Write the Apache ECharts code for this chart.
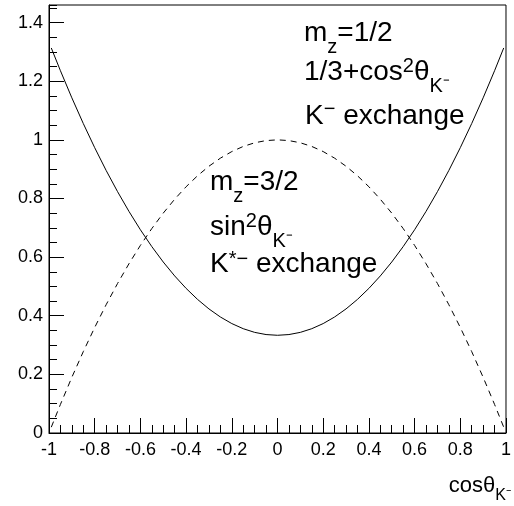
<!DOCTYPE html>
<html>
<head>
<meta charset="utf-8">
<script src="https://cdn.jsdelivr.net/npm/echarts@6/dist/echarts.min.js"></script>
<style>
  html, body { margin: 0; padding: 0; background: #fff; }
  #chart { width: 514px; height: 506px; }
</style>
</head>
<body>
<div id="chart"></div>
<script>
// Angular distributions versus cos(theta_K-)
const cosTheta = [-0.99, -0.95, -0.9, -0.85, -0.8, -0.75, -0.7, -0.65, -0.6, -0.55, -0.5,
  -0.45, -0.4, -0.35, -0.3, -0.25, -0.2, -0.15, -0.1, -0.05, 0,
  0.05, 0.1, 0.15, 0.2, 0.25, 0.3, 0.35, 0.4, 0.45, 0.5,
  0.55, 0.6, 0.65, 0.7, 0.75, 0.8, 0.85, 0.9, 0.95, 0.99];

// m_z = 1/2 (K- exchange): solid curve
const halfSpin = [1.3134, 1.2358, 1.1433, 1.0558, 0.9733, 0.8958, 0.8233, 0.7558, 0.6933, 0.6358, 0.5833,
  0.5358, 0.4933, 0.4558, 0.4233, 0.3958, 0.3733, 0.3558, 0.3433, 0.3358, 0.3333,
  0.3358, 0.3433, 0.3558, 0.3733, 0.3958, 0.4233, 0.4558, 0.4933, 0.5358, 0.5833,
  0.6358, 0.6933, 0.7558, 0.8233, 0.8958, 0.9733, 1.0558, 1.1433, 1.2358, 1.3134];

// m_z = 3/2 (K*- exchange): dashed curve
const threeHalfSpin = [0.0199, 0.0975, 0.19, 0.2775, 0.36, 0.4375, 0.51, 0.5775, 0.64, 0.6975, 0.75,
  0.7975, 0.84, 0.8775, 0.91, 0.9375, 0.96, 0.9775, 0.99, 0.9975, 1,
  0.9975, 0.99, 0.9775, 0.96, 0.9375, 0.91, 0.8775, 0.84, 0.7975, 0.75,
  0.6975, 0.64, 0.5775, 0.51, 0.4375, 0.36, 0.2775, 0.19, 0.0975, 0.0199];

const xRange = [-1, 1];
const yRange = [0, 1.46];

const FONT = 'Liberation Sans, Arial, Helvetica, sans-serif';
const base = { fontFamily: FONT, color: '#000' };

// Rich-text styles: main glyphs, subscripts and superscripts
const richStyles = {
  m: Object.assign({ fontSize: 28, lineHeight: 48 }, base),
  sub: Object.assign({ fontSize: 20, lineHeight: 20, verticalAlign: 'bottom' }, base),
  sup: Object.assign({ fontSize: 20, lineHeight: 36, height: 36, verticalAlign: 'top' }, base),
  supm: Object.assign({ fontSize: 20, lineHeight: 34, height: 34, verticalAlign: 'top' }, base),
  supa: Object.assign({ fontSize: 20, lineHeight: 38, height: 38, verticalAlign: 'top' }, base),
  t: Object.assign({ fontSize: 22, lineHeight: 36 }, base),
  tsub: Object.assign({ fontSize: 16, lineHeight: 16, verticalAlign: 'bottom' }, base)
};

function label(x, y, text, align) {
  return {
    type: 'text', x: x, y: y, silent: true,
    style: {
      text: text, rich: richStyles, fill: '#000',
      font: '28px ' + FONT,
      textAlign: align || 'left', textVerticalAlign: 'middle'
    }
  };
}

const chart = echarts.init(document.getElementById('chart'), null, { renderer: 'canvas' });

const tickFont = { fontSize: 18, fontFamily: FONT, color: '#000' };

chart.setOption({
  animation: false,
  backgroundColor: '#fff',
  grid: { left: 49, right: 6, top: 5, bottom: 73, show: true, borderColor: '#000', borderWidth: 1, containLabel: false },
  xAxis: [{
    type: 'value', min: xRange[0], max: xRange[1], interval: 0.2,
    axisLine: { show: true, onZero: false, lineStyle: { color: '#000', width: 1 } },
    axisTick: { show: true, inside: true, length: 15, lineStyle: { color: '#000' } },
    minorTick: { show: true, splitNumber: 4, length: 8, lineStyle: { color: '#000' } },
    splitLine: { show: false },
    axisLabel: Object.assign({ margin: 8 }, tickFont)
  }],
  yAxis: [{
    type: 'value', min: yRange[0], max: yRange[1], interval: 0.2, position: 'left',
    axisLine: { show: true, onZero: false, lineStyle: { color: '#000', width: 1 } },
    axisTick: { show: true, inside: true, length: 15, lineStyle: { color: '#000' } },
    splitLine: { show: false },
    axisLabel: Object.assign({ margin: 6, showMaxLabel: false }, tickFont)
  }, {
    // short ticks every 0.05
    type: 'value', min: yRange[0], max: yRange[1], interval: 0.05, position: 'left',
    axisLine: { show: false, onZero: false },
    axisTick: { show: true, inside: true, length: 8, lineStyle: { color: '#000' } },
    splitLine: { show: false },
    axisLabel: { show: false }
  }],
  series: [{
    type: 'line', xAxisIndex: 0, yAxisIndex: 0,
    data: cosTheta.map((c, i) => [c, halfSpin[i]]),
    showSymbol: false, silent: true,
    lineStyle: { color: '#000', width: 1, type: 'solid' }
  }, {
    type: 'line', xAxisIndex: 0, yAxisIndex: 0,
    data: cosTheta.map((c, i) => [c, threeHalfSpin[i]]),
    showSymbol: false, silent: true,
    lineStyle: { color: '#000', width: 1, type: [6, 5] }
  }],
  graphic: [
    label(304, 33, '{m|m}{sub|z}{m|=1/2}'),
    label(304, 72, '{m|1/3+cos}{sup|2}{m|θ}{sub|K⁻}'),
    label(305, 116, '{m|K}{supm|−}{m| exchange}'),
    label(210, 182, '{m|m}{sub|z}{m|=3/2}'),
    label(210, 227, '{m|sin}{sup|2}{m|θ}{sub|K⁻}'),
    label(210, 264, '{m|K}{supa|*−}{m| exchange}'),
    label(511, 486, '{t|cosθ}{tsub|K⁻}', 'right')
  ]
});
</script>
</body>
</html>
